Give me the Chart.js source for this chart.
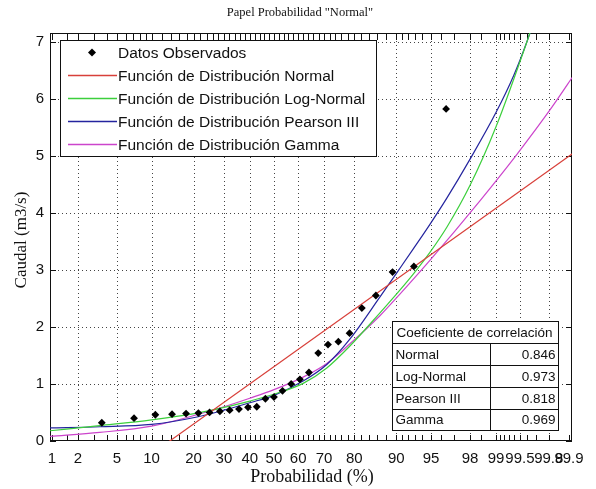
<!DOCTYPE html>
<html>
<head>
<meta charset="utf-8">
<script src="https://cdn.jsdelivr.net/npm/chart.js@4.4.1/dist/chart.umd.min.js"></script>
<style>
  html, body { margin: 0; padding: 0; background: #fff; }
  #wrap { width: 596px; height: 489px; position: relative; }
</style>
</head>
<body>
<div id="wrap"><canvas id="c" width="596" height="489"></canvas></div>
<script>
// ---- probability axis (normal probability paper) ----
const xMinP = 0.95, xMaxP = 99.91;
const xTickProbs  = [1, 2, 5, 10, 20, 30, 40, 50, 60, 70, 80, 90, 95, 98, 99, 99.5, 99.8, 99.9];
const xTickLabels = ['1', '2', '5', '10', '20', '30', '40', '50', '60', '70', '80', '90', '95', '98', '99', '99.5', '99.8', '99.9'];
const xGridProbs  = [2, 5, 10, 20, 30, 40, 50, 60, 70, 80, 90, 95, 98, 99, 99.5, 99.8];
const xMinorProbs = [1, 1.5, 2, 3, 4, 5, 6, 7, 8, 9, 10, 12, 14, 16, 18, 20, 22, 24, 26, 28, 30,
  32, 34, 36, 38, 40, 42, 44, 46, 48, 50, 52, 54, 56, 58, 60, 62, 64, 66, 68, 70,
  72, 74, 76, 78, 80, 82, 84, 86, 88, 90, 91, 92, 93, 94, 95, 96, 97, 98, 98.5,
  99, 99.1, 99.2, 99.3, 99.4, 99.5, 99.6, 99.7, 99.8, 99.9];
const yTicks = [0, 1, 2, 3, 4, 5, 6, 7];
const yMax = 7.15;

// ---- observed flows ----
const probObs   = [3.57, 7.14, 10.71, 14.29, 17.86, 21.43, 25.00, 28.57, 32.14, 35.71, 39.29, 42.86, 46.43, 50.00,
                   53.57, 57.14, 60.71, 64.29, 67.86, 71.43, 75.00, 78.57, 82.14, 85.71, 89.29, 92.86, 96.43];
const caudalObs = [0.32, 0.40, 0.46, 0.47, 0.48, 0.49, 0.50, 0.52, 0.54, 0.56, 0.59, 0.60, 0.74, 0.77,
                   0.88, 1.00, 1.08, 1.20, 1.54, 1.69, 1.74, 1.89, 2.33, 2.55, 2.96, 3.06, 5.82];

// ---- fitted distributions ----
const probNormal   = [12, 99.92];
const caudalNormal = [-0.10, 5.07];

const probLogNormal   = [0.95, 3.4, 10, 21, 30, 40, 50, 62, 71, 78.6, 86.7, 90.6, 92.8, 94.9, 96.5, 98.0, 99.0, 99.6, 99.7];
const caudalLogNormal = [0.18, 0.27, 0.37, 0.49, 0.59, 0.70, 0.82, 1.01, 1.28, 1.66, 2.25, 2.64, 2.93, 3.31, 3.75, 4.48, 5.51, 7.01, 7.49];

const probPearson   = [0.95, 3.4, 10, 21, 30, 40, 50, 62, 71, 78.6, 86.7, 90.6, 92.8, 94.9, 96.5, 98.0, 99.0, 99.4, 99.6, 99.7];
const caudalPearson = [0.23, 0.25, 0.29, 0.42, 0.54, 0.67, 0.80, 1.05, 1.34, 1.78, 2.53, 3.02, 3.37, 3.80, 4.26, 4.94, 5.76, 6.41, 7.01, 7.49];

const probGamma   = [0.95, 3.4, 10, 21, 30, 40, 50, 62, 71, 78.6, 86.7, 90.6, 94.9, 98.45, 99.45, 99.82, 99.92];
const caudalGamma = [0.08, 0.15, 0.26, 0.46, 0.60, 0.75, 0.90, 1.12, 1.36, 1.70, 2.20, 2.57, 3.17, 4.21, 5.02, 5.85, 6.45];

// ---- correlation table ----
const corrHeader = 'Coeficiente de correlación';
const corrNames  = ['Normal', 'Log-Normal', 'Pearson III', 'Gamma'];
const corrValues = ['0.846', '0.973', '0.818', '0.969'];

const seriesNames = ['Datos Observados', 'Función de Distribución Normal', 'Función de Distribución Log-Normal',
                     'Función de Distribución Pearson III', 'Función de Distribución Gamma'];
const seriesColors = ['rgb(0,0,0)', 'rgb(216,64,58)', 'rgb(60,207,60)', 'rgb(36,36,158)', 'rgb(204,68,204)'];

// inverse of the standard normal CDF (Acklam)
function probit(p) {
  const a = [-3.969683028665376e+01, 2.209460984245205e+02, -2.759285104469687e+02, 1.383577518672690e+02, -3.066479806614716e+01, 2.506628277459239e+00];
  const b = [-5.447609879822406e+01, 1.615858368580409e+02, -1.556989798598866e+02, 6.680131188771972e+01, -1.328068155288572e+01];
  const c = [-7.784894002430293e-03, -3.223964580411365e-01, -2.400758277161838e+00, -2.549732539343734e+00, 4.374664141464968e+00, 2.938163982698783e+00];
  const d = [7.784695709041462e-03, 3.224671290700398e-01, 2.445134137142996e+00, 3.754408661907416e+00];
  const pl = 0.02425, ph = 1 - pl;
  let q, r;
  if (p < pl) {
    q = Math.sqrt(-2 * Math.log(p));
    return (((((c[0]*q+c[1])*q+c[2])*q+c[3])*q+c[4])*q+c[5]) / ((((d[0]*q+d[1])*q+d[2])*q+d[3])*q+1);
  }
  if (p <= ph) {
    q = p - 0.5; r = q * q;
    return (((((a[0]*r+a[1])*r+a[2])*r+a[3])*r+a[4])*r+a[5])*q / (((((b[0]*r+b[1])*r+b[2])*r+b[3])*r+b[4])*r+1);
  }
  q = Math.sqrt(-2 * Math.log(1 - p));
  return -(((((c[0]*q+c[1])*q+c[2])*q+c[3])*q+c[4])*q+c[5]) / ((((d[0]*q+d[1])*q+d[2])*q+d[3])*q+1);
}
const zOf = pct => probit(pct / 100);
const toPoints = (probs, vals) => probs.map((p, i) => ({ x: zOf(p), y: vals[i] }));

const SANS = "'Liberation Sans', Arial, sans-serif";
const SERIF = "'Liberation Serif', 'Times New Roman', serif";

function lineSet(label, probs, vals, color) {
  return {
    label, data: toPoints(probs, vals), showLine: true, pointRadius: 0,
    borderColor: color, borderWidth: 1.2, backgroundColor: color,
    cubicInterpolationMode: 'monotone', fill: false
  };
}

// grid, ticks, frame, legend, table and titles of the probability paper
const paperPlugin = {
  id: 'paper',
  beforeDatasetsDraw(chart) {
    const { ctx, chartArea: ca, scales } = chart;
    const xs = scales.x, ys = scales.y;
    ctx.save();
    // dotted grid
    ctx.strokeStyle = '#444';
    ctx.lineWidth = 1;
    ctx.setLineDash([1, 3]);
    ctx.beginPath();
    xGridProbs.forEach(p => {
      const x = Math.round(xs.getPixelForValue(zOf(p))) + 0.5;
      ctx.moveTo(x, ca.top); ctx.lineTo(x, ca.bottom);
    });
    yTicks.forEach(v => {
      if (v === 0) return;
      const y = Math.round(ys.getPixelForValue(v)) + 0.5;
      ctx.moveTo(ca.left, y); ctx.lineTo(ca.right, y);
    });
    ctx.stroke();
    ctx.setLineDash([]);
    // minor ticks along the top and bottom edges
    ctx.strokeStyle = '#111';
    ctx.beginPath();
    xMinorProbs.forEach(p => {
      const x = Math.round(xs.getPixelForValue(zOf(p))) + 0.5;
      ctx.moveTo(x, ca.bottom); ctx.lineTo(x, ca.bottom - 6);
      ctx.moveTo(x, ca.top); ctx.lineTo(x, ca.top + 7);
    });
    // value ticks on left and right edges
    yTicks.forEach(v => {
      const y = Math.round(ys.getPixelForValue(v)) + 0.5;
      ctx.moveTo(ca.left, y); ctx.lineTo(ca.left + 6, y);
      ctx.moveTo(ca.right, y); ctx.lineTo(ca.right - 6, y);
    });
    ctx.stroke();
    // frame
    ctx.strokeRect(Math.round(ca.left) + 0.5, Math.round(ca.top) + 0.5,
                   Math.round(ca.right - ca.left) - 1, Math.round(ca.bottom - ca.top) - 1);
    ctx.restore();
  },
  afterDatasetsDraw(chart) {
    const { ctx } = chart;
    ctx.save();
    // legend box
    const lx = 60.5, ly = 40.5, lw = 316, lh = 116;
    ctx.fillStyle = '#fff';
    ctx.fillRect(lx, ly, lw, lh);
    ctx.strokeStyle = '#111';
    ctx.lineWidth = 1;
    ctx.strokeRect(lx, ly, lw, lh);
    ctx.font = '15.5px ' + SANS;
    ctx.textBaseline = 'middle';
    ctx.textAlign = 'left';
    seriesNames.forEach((name, i) => {
      const y = 52.5 + i * 23;
      if (i === 0) {
        ctx.fillStyle = '#000';
        ctx.beginPath();
        ctx.moveTo(92, y - 4); ctx.lineTo(96, y); ctx.lineTo(92, y + 4); ctx.lineTo(88, y);
        ctx.closePath(); ctx.fill();
      } else {
        ctx.save();
        ctx.strokeStyle = seriesColors[i];
        ctx.lineWidth = 1.3;
        ctx.beginPath(); ctx.moveTo(68, y); ctx.lineTo(117, y); ctx.stroke();
        ctx.restore();
      }
      ctx.fillStyle = '#111';
      ctx.fillText(name, 118, y + 1);
    });
    // correlation table
    const tx = 392.5, tw = 166, ty = 321.5, rh = 21.8, colX = 490.5;
    const th = rh * 5;
    ctx.fillStyle = '#fff';
    ctx.fillRect(tx, ty, tw, th);
    ctx.strokeStyle = '#111';
    ctx.lineWidth = 1;
    ctx.strokeRect(tx, ty, tw, th);
    ctx.beginPath();
    for (let r = 1; r < 5; r++) {
      const y = Math.round(ty + r * rh) + 0.5;
      ctx.moveTo(tx, y); ctx.lineTo(tx + tw, y);
    }
    ctx.moveTo(colX, Math.round(ty + rh) + 0.5); ctx.lineTo(colX, ty + th);
    ctx.stroke();
    ctx.font = '13.5px ' + SANS;
    ctx.fillStyle = '#111';
    ctx.textAlign = 'left';
    ctx.fillText(corrHeader, tx + 4, ty + rh / 2 + 1);
    corrNames.forEach((n, i) => {
      const y = ty + (i + 1.5) * rh + 1;
      ctx.textAlign = 'left';
      ctx.fillText(n, tx + 3, y);
      ctx.textAlign = 'right';
      ctx.fillText(corrValues[i], tx + tw - 3, y);
    });
    // titles
    ctx.fillStyle = '#111';
    ctx.textAlign = 'center';
    ctx.textBaseline = 'middle';
    ctx.font = '12.5px ' + SERIF;
    ctx.fillText('Papel Probabilidad "Normal"', 300, 13);
    ctx.font = '18px ' + SERIF;
    ctx.fillText('Probabilidad (%)', 312, 477);
    ctx.translate(22, 240);
    ctx.rotate(-Math.PI / 2);
    ctx.font = '17px ' + SERIF;
    ctx.fillText('Caudal (m3/s)', 0, 0);
    ctx.restore();
  }
};

new Chart(document.getElementById('c'), {
  type: 'scatter',
  data: {
    datasets: [
      {
        label: seriesNames[0], data: toPoints(probObs, caudalObs), showLine: false,
        pointStyle: 'rectRot', pointRadius: 3.9, pointBackgroundColor: '#000',
        pointBorderColor: '#000', pointBorderWidth: 0
      },
      lineSet(seriesNames[1], probNormal, caudalNormal, seriesColors[1]),
      lineSet(seriesNames[2], probLogNormal, caudalLogNormal, seriesColors[2]),
      lineSet(seriesNames[3], probPearson, caudalPearson, seriesColors[3]),
      lineSet(seriesNames[4], probGamma, caudalGamma, seriesColors[4])
    ]
  },
  options: {
    responsive: false,
    animation: false,
    devicePixelRatio: 1,
    layout: { padding: { top: 33, right: 24, left: 0, bottom: 0 } },
    plugins: { legend: { display: false }, tooltip: { enabled: false }, title: { display: false } },
    scales: {
      x: {
        type: 'linear',
        min: zOf(xMinP), max: zOf(xMaxP),
        afterBuildTicks: s => { s.ticks = xTickProbs.map(p => ({ value: zOf(p) })); },
        afterFit: s => { s.height = 48; },
        grid: { display: false, drawTicks: false },
        border: { display: false },
        ticks: {
          autoSkip: false, maxRotation: 0, minRotation: 0, padding: 9,
          color: '#111', font: { family: SANS, size: 15 },
          callback: (v, i) => xTickLabels[i]
        }
      },
      y: {
        type: 'linear',
        min: 0, max: yMax,
        afterBuildTicks: s => { s.ticks = yTicks.map(v => ({ value: v })); },
        afterFit: s => { s.width = 50; },
        grid: { display: false, drawTicks: false },
        border: { display: false },
        ticks: {
          padding: 6, color: '#111', font: { family: SANS, size: 15 },
          callback: (v, i) => String(yTicks[i])
        }
      }
    }
  },
  plugins: [paperPlugin]
});
</script>
</body>
</html>
